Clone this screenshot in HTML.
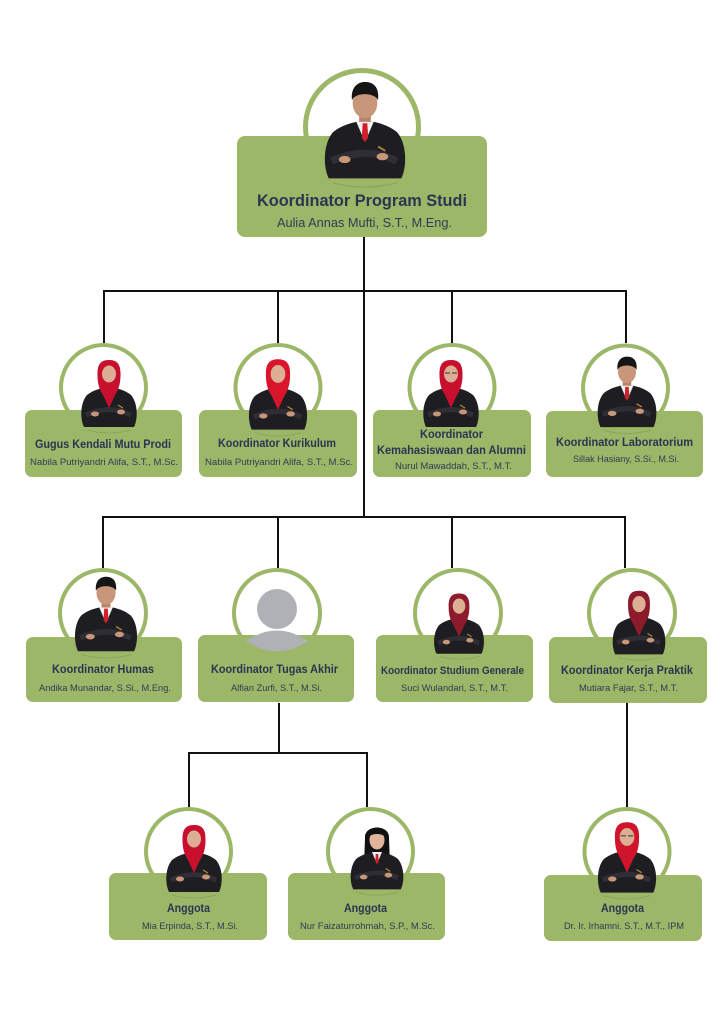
<!DOCTYPE html>
<html><head><meta charset="utf-8">
<style>
html,body{margin:0;padding:0;background:#fff;}
svg{display:block;}
text{font-family:"Liberation Sans",sans-serif;}
.t{font-weight:bold;fill:#2b3553;}
.s{fill:#323b55;}
</style></head>
<body>
<svg width="724" height="1024" viewBox="0 0 724 1024" xmlns="http://www.w3.org/2000/svg">
<defs>
<g id="suit">
 <path d="M-22,55 Q0,61 22,55" fill="none" stroke="#7f9c52" stroke-width="0.8" opacity="0.7"/>
 <path d="M-25,52 C-29,44 -29,28 -22,20 C-17,16 -11,14 -6,13 L6,13 C11,14 17,16 22,20 C29,28 29,44 25,52 Z" fill="#1e1e22"/>
 <path d="M-23,40 Q-5,32 12,36 L22,40" stroke="#2e2e34" stroke-width="5" fill="none"/>
 <ellipse cx="-14" cy="39" rx="4" ry="2.5" fill="#c8977a"/>
 <ellipse cx="12" cy="37" rx="4" ry="2.5" fill="#c8977a"/>
 <path d="M9,30 L14,33" stroke="#b58a3a" stroke-width="1.2"/>
</g>
<g id="male">
 <use href="#suit"/>
 <rect x="-4" y="5" width="8" height="9" fill="#b98468"/>
 <path d="M-6,13 L0,27 L6,13Z" fill="#f1f1f1"/>
 <path d="M-1.6,14 L1.6,14 L2.2,24 L0,27 L-2.2,24Z" fill="#cf1f2b"/>
 <ellipse cx="0" cy="0" rx="8.5" ry="10.5" fill="#c8977a"/>
 <path d="M-9,-2 C-10,-12 -4,-14.5 0,-14.5 C5,-14.5 10,-12 9,-2 C7,-7 -6,-8 -9,-2Z" fill="#151515"/>
</g>
<g id="hijab">
 <use href="#suit"/>
 <path d="M-11.5,0 C-12,-13 -6,-15 0,-15 C6,-15 12,-13 11.5,0 C11.5,8 10,14 6,20 L0,33 L-6,20 C-10,14 -11.5,8 -11.5,0Z" fill="currentColor"/>
 <ellipse cx="0" cy="-1" rx="7" ry="8.5" fill="#dcae94"/>
</g>
</defs>

<!-- connectors -->
<g stroke="#111" stroke-width="2" fill="none">
 <path d="M364,237 V517"/>
 <path d="M104,343 V291 H626 V343"/>
 <path d="M278,291 V343 M452,291 V343"/>
 <path d="M103,568 V517 H625 V568"/>
 <path d="M278,517 V568 M452,517 V568"/>
 <path d="M279,703 V753 M189,807 V753 H367 V807"/>
 <path d="M627,703 V807"/>
</g>

<!-- circles -->
<g fill="#fff" stroke="#9bb767">
 <circle cx="362" cy="127" r="56.5" stroke-width="5"/>
 <circle cx="103.5" cy="387.5" r="42.5" stroke-width="4"/>
 <circle cx="278" cy="387.5" r="42.5" stroke-width="4"/>
 <circle cx="452" cy="387.5" r="42.5" stroke-width="4"/>
 <circle cx="625.5" cy="388" r="42.5" stroke-width="4"/>
 <circle cx="103" cy="613" r="43" stroke-width="4"/>
 <circle cx="277" cy="613" r="43" stroke-width="4"/>
 <circle cx="458" cy="613" r="43" stroke-width="4"/>
 <circle cx="632" cy="613" r="43" stroke-width="4"/>
 <circle cx="188.5" cy="851.5" r="42.5" stroke-width="4"/>
 <circle cx="370.5" cy="851.5" r="42.5" stroke-width="4"/>
 <circle cx="627" cy="851.5" r="42.5" stroke-width="4"/>
</g>

<!-- boxes -->
<g fill="#9bb767">
 <rect x="237" y="136" width="250" height="101" rx="8"/>
 <rect x="25" y="410" width="157" height="67" rx="7"/>
 <rect x="199" y="410" width="158" height="67" rx="7"/>
 <rect x="373" y="410" width="158" height="67" rx="7"/>
 <rect x="546" y="411" width="157" height="66" rx="7"/>
 <rect x="26" y="637" width="156" height="65" rx="7"/>
 <rect x="198" y="635" width="156" height="67" rx="7"/>
 <rect x="376" y="635" width="157" height="67" rx="7"/>
 <rect x="549" y="637" width="158" height="66" rx="7"/>
 <rect x="109" y="873" width="158" height="67" rx="7"/>
 <rect x="288" y="873" width="157" height="67" rx="7"/>
 <rect x="544" y="875" width="158" height="66" rx="7"/>
</g>

<!-- people -->
<use href="#male" transform="translate(365,103) scale(1.45)"/>
<use href="#hijab" style="color:#c8102e" transform="translate(109,375)"/>
<use href="#hijab" style="color:#d8152a" transform="translate(278,375) scale(1.05)"/>
<g transform="translate(451,375)">
 <use href="#hijab" style="color:#c8102e"/>
 <path d="M-6,-2 h5 M1,-2 h5" stroke="#333" stroke-width="1"/>
</g>
<use href="#male" transform="translate(627,372) scale(1.06)"/>
<use href="#male" transform="translate(106,593) scale(1.12)"/>
<!-- avatar -->
<circle cx="277" cy="609" r="20" fill="#aeb1b5"/>
<path d="M246,641 Q277,620 308,641 Q277,662 246,641Z" fill="#aeb1b5"/>
<use href="#hijab" style="color:#8e1b2c" transform="translate(459,607) scale(0.9)"/>
<use href="#hijab" style="color:#8e1b2c" transform="translate(639,605) scale(0.95)"/>
<use href="#hijab" style="color:#c8102e" transform="translate(194,840)"/>
<g transform="translate(377,840)">
 <path d="M-12,-2 C-13,-16 13,-16 12,-2 L13,26 L-13,26Z" fill="#111"/>
 <use href="#suit" transform="scale(0.95)"/>
 <path d="M-5,12 L0,24 L5,12Z" fill="#f1f1f1"/>
 <path d="M-1.3,14 L1.3,14 L1.6,22 L0,24 L-1.6,22Z" fill="#cf1f2b"/>
 <ellipse cx="0" cy="0" rx="7.5" ry="9.5" fill="#e0b49a"/>
 <path d="M-8,-3 C-8,-12 8,-12 8,-3 C5,-7 -5,-7 -8,-3Z" fill="#111"/>
</g>
<g transform="translate(627,838) scale(1.05)">
 <use href="#hijab" style="color:#d0142b"/>
 <path d="M-6,-2 h5 M1,-2 h5" stroke="#333" stroke-width="1"/>
</g>

<!-- texts -->
<text class="t" x="362" y="206" font-size="17" text-anchor="middle" textLength="210" lengthAdjust="spacingAndGlyphs">Koordinator Program Studi</text>
<text class="s" x="364.5" y="227" font-size="13" text-anchor="middle" textLength="175" lengthAdjust="spacingAndGlyphs">Aulia Annas Mufti, S.T., M.Eng.</text>

<text class="t" x="103" y="448" font-size="11.5" text-anchor="middle" textLength="136" lengthAdjust="spacingAndGlyphs">Gugus Kendali Mutu Prodi</text>
<text class="s" x="104" y="465" font-size="9.5" text-anchor="middle" textLength="148" lengthAdjust="spacingAndGlyphs">Nabila Putriyandri Alifa, S.T., M.Sc.</text>

<text class="t" x="277" y="447" font-size="11.5" text-anchor="middle" textLength="118" lengthAdjust="spacingAndGlyphs">Koordinator Kurikulum</text>
<text class="s" x="279" y="465" font-size="9.5" text-anchor="middle" textLength="148" lengthAdjust="spacingAndGlyphs">Nabila Putriyandri Alifa, S.T., M.Sc.</text>

<text class="t" x="451.5" y="438" font-size="11.5" text-anchor="middle" textLength="63" lengthAdjust="spacingAndGlyphs">Koordinator</text>
<text class="t" x="451.5" y="454" font-size="11.5" text-anchor="middle" textLength="149" lengthAdjust="spacingAndGlyphs">Kemahasiswaan dan Alumni</text>
<text class="s" x="453.5" y="469" font-size="9.5" text-anchor="middle" textLength="117" lengthAdjust="spacingAndGlyphs">Nurul Mawaddah, S.T., M.T.</text>

<text class="t" x="624.5" y="446" font-size="11.5" text-anchor="middle" textLength="137" lengthAdjust="spacingAndGlyphs">Koordinator Laboratorium</text>
<text class="s" x="626" y="462" font-size="9.5" text-anchor="middle" textLength="106" lengthAdjust="spacingAndGlyphs">Sillak Hasiany, S.Si., M.Si.</text>

<text class="t" x="103" y="673" font-size="11.5" text-anchor="middle" textLength="102" lengthAdjust="spacingAndGlyphs">Koordinator Humas</text>
<text class="s" x="105" y="691" font-size="9.5" text-anchor="middle" textLength="132" lengthAdjust="spacingAndGlyphs">Andika Munandar, S.Si., M.Eng.</text>

<text class="t" x="274.5" y="673" font-size="11.5" text-anchor="middle" textLength="127" lengthAdjust="spacingAndGlyphs">Koordinator Tugas Akhir</text>
<text class="s" x="276.5" y="691" font-size="9.5" text-anchor="middle" textLength="91" lengthAdjust="spacingAndGlyphs">Alfian Zurfi, S.T., M.Si.</text>

<text class="t" x="452.5" y="674" font-size="11" text-anchor="middle" textLength="143" lengthAdjust="spacingAndGlyphs">Koordinator Studium Generale</text>
<text class="s" x="454.5" y="691" font-size="9.5" text-anchor="middle" textLength="107" lengthAdjust="spacingAndGlyphs">Suci Wulandari, S.T., M.T.</text>

<text class="t" x="627" y="674" font-size="11.5" text-anchor="middle" textLength="132" lengthAdjust="spacingAndGlyphs">Koordinator Kerja Praktik</text>
<text class="s" x="628.5" y="691" font-size="9.5" text-anchor="middle" textLength="99" lengthAdjust="spacingAndGlyphs">Mutiara Fajar, S.T., M.T.</text>

<text class="t" x="188.5" y="912" font-size="11.5" text-anchor="middle" textLength="43" lengthAdjust="spacingAndGlyphs">Anggota</text>
<text class="s" x="190" y="929" font-size="9.5" text-anchor="middle" textLength="96" lengthAdjust="spacingAndGlyphs">Mia Erpinda, S.T., M.Si.</text>

<text class="t" x="365.5" y="912" font-size="11.5" text-anchor="middle" textLength="43" lengthAdjust="spacingAndGlyphs">Anggota</text>
<text class="s" x="367.5" y="929" font-size="9.5" text-anchor="middle" textLength="135" lengthAdjust="spacingAndGlyphs">Nur Faizaturrohmah, S.P., M.Sc.</text>

<text class="t" x="622.5" y="912" font-size="11.5" text-anchor="middle" textLength="43" lengthAdjust="spacingAndGlyphs">Anggota</text>
<text class="s" x="624" y="929" font-size="9.5" text-anchor="middle" textLength="120" lengthAdjust="spacingAndGlyphs">Dr. Ir. Irhamni. S.T., M.T., IPM</text>
</svg>
</body></html>
